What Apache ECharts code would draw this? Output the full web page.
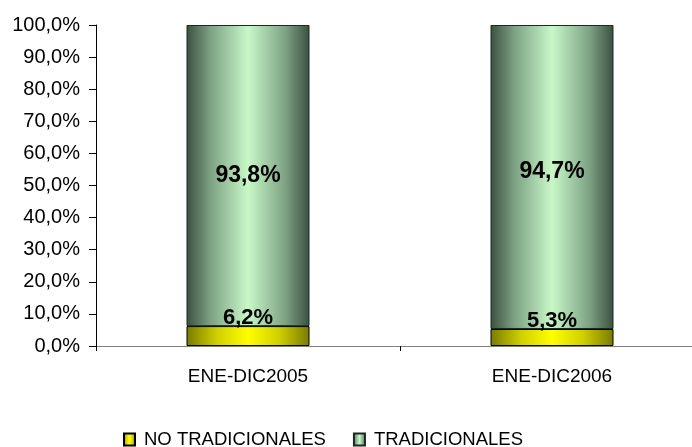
<!DOCTYPE html>
<html><head><meta charset="utf-8">
<script src="https://cdn.jsdelivr.net/npm/echarts@6/dist/echarts.min.js"></script>
<style>html,body{margin:0;padding:0;background:#fff}#c{width:692px;height:447px}</style>
</head><body><div id="c"></div>
<script>
const categories = ['ENE-DIC2005', 'ENE-DIC2006'];
const noTradicionales = [6.2, 5.3];
const tradicionales = [93.8, 94.7];
const seriesNames = ['NO TRADICIONALES', 'TRADICIONALES'];

const fmt = v => v.toFixed(1).replace('.', ',') + '%';
const F = 'Liberation Sans, Arial, sans-serif';

const greenGrad = new echarts.graphic.LinearGradient(0, 0, 1, 0, [
  {offset: 0, color: '#3a5040'}, {offset: 0.2, color: '#7fa385'},
  {offset: 0.5, color: '#c8f8c8'}, {offset: 0.8, color: '#7fa385'}, {offset: 1, color: '#3a5040'}
]);
const yellowGrad = new echarts.graphic.LinearGradient(0, 0, 1, 0, [
  {offset: 0, color: '#7a7a00'}, {offset: 0.25, color: '#d0d000'},
  {offset: 0.5, color: '#ffff00'}, {offset: 0.75, color: '#d0d000'}, {offset: 1, color: '#7a7a00'}
]);

const chart = echarts.init(document.getElementById('c'), null, {renderer: 'canvas'});
chart.setOption({
  animation: false,
  grid: {left: 96, width: 608, top: 25, bottom: 101, containLabel: false, outerBoundsMode: 'none'},
  legend: {
    top: 430, left: 123, itemWidth: 11, itemHeight: 12, itemGap: 27, padding: 0, icon: 'rect',
    textStyle: {fontFamily: F, fontSize: 18.5, color: '#000', padding: [0, 0, 0, 4]},
    data: seriesNames
  },
  xAxis: {
    type: 'category', data: categories,
    axisLine: {lineStyle: {color: '#808080', width: 1}},
    axisTick: {show: true, interval: 0, length: 5, lineStyle: {color: '#000'}},
    axisLabel: {fontFamily: F, fontSize: 19, color: '#000', margin: 21}
  },
  yAxis: {
    type: 'value', min: 0, max: 100, interval: 10,
    axisLine: {show: true, lineStyle: {color: '#000'}},
    axisTick: {show: true, length: 7, lineStyle: {color: '#000'}},
    splitLine: {show: false},
    axisLabel: {fontFamily: F, fontSize: 20, color: '#000', margin: 16, formatter: v => fmt(v)}
  },
  series: [
    {
      name: seriesNames[0], type: 'bar', stack: 's', barWidth: 123,
      data: noTradicionales,
      itemStyle: {color: yellowGrad, borderColor: '#000', borderWidth: 1},
      label: {show: true, position: 'top', distance: -3, fontFamily: F, fontSize: 22, fontWeight: 'bold', color: '#000', formatter: p => fmt(p.value)}
    },
    {
      name: seriesNames[1], type: 'bar', stack: 's', barWidth: 123,
      data: tradicionales.map((v, i) => ({value: v, label: {offset: [0, i === 1 ? -5 : 0]}})),
      itemStyle: {color: greenGrad, borderColor: '#1a2a1e', borderWidth: 1},
      label: {show: true, position: 'inside', fontFamily: F, fontSize: 23, fontWeight: 'bold', color: '#000', formatter: p => fmt(p.value)}
    }
  ]
});
</script></body></html>
